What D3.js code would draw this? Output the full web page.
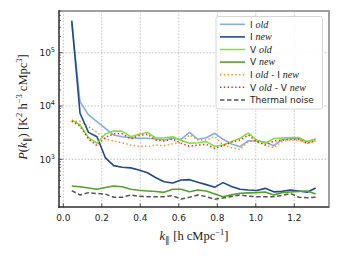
<!DOCTYPE html>
<html>
<head>
<meta charset="utf-8">
<script src="https://cdn.jsdelivr.net/npm/d3@7"></script>
<style>
  html, body { margin: 0; padding: 0; background: #fff; }
  svg { display: block; }
</style>
</head>
<body>
<div id="chart"></div>
<script>
const width = 340;
const height = 260;

// k_parallel bins
const kPar = [0.044, 0.087, 0.131, 0.175, 0.219, 0.262, 0.306, 0.350, 0.393, 0.437,
              0.481, 0.524, 0.568, 0.612, 0.656, 0.699, 0.743, 0.787, 0.830, 0.874,
              0.918, 0.961, 1.005, 1.049, 1.093, 1.136, 1.180, 1.224, 1.267, 1.311];

const iOld = [350000, 12000, 6800, 5100, 3800, 2850, 2650, 2550, 2480, 2480,
              2400, 2300, 2480, 2370, 3200, 2370, 2540, 3070, 2370, 1940,
              1720, 2230, 2200, 2100, 1800, 2350, 2450, 2450, 2150, 2370];
const iNew = [400000, 7300, 3200, 2650, 1060, 760, 710, 690, 630, 560,
              450, 380, 360, 410, 415, 370, 335, 300, 365, 310,
              275, 265, 260, 285, 245, 250, 265, 255, 240, 290];
const vOld = [5500, 4400, 2550, 2000, 3000, 3400, 3350, 2650, 2950, 3200,
              2500, 2500, 2650, 2250, 2000, 2050, 2150, 1750, 1850, 2150,
              2500, 3100, 2300, 2000, 2450, 2500, 2550, 2550, 2150, 2400];
const vNew = [316, 306, 290, 274, 295, 316, 306, 275, 262, 255,
              248, 240, 274, 274, 247, 266, 255, 224, 199, 215,
              230, 234, 237, 244, 214, 237, 244, 250, 255, 224];
const iDiff = [5100, 5200, 4100, 3200, 2400, 2200, 2050, 1850, 1750, 1750,
               1850, 1800, 1950, 2050, 2860, 2300, 2300, 2650, 1850, 1650,
               1530, 2140, 2230, 1850, 1650, 2140, 2300, 2300, 2000, 2230];
const vDiff = [5200, 4200, 2400, 1800, 2600, 3000, 3000, 2400, 2800, 2950,
               2300, 2200, 2400, 2000, 1750, 1850, 1900, 1600, 1800, 2100,
               2300, 2860, 2150, 1850, 2200, 2300, 2350, 2350, 2000, 2200];
const noise = [258, 214, 237, 228, 222, 194, 194, 214, 202, 199,
               199, 199, 207, 180, 194, 214, 199, 178, 188, 200,
               214, 202, 199, 199, 199, 210, 228, 194, 190, 194];

const xTicks = [0.0, 0.2, 0.4, 0.6, 0.8, 1.0, 1.2];
const yTicks = [1e3, 1e4, 1e5];
const yTickExp = ["3", "4", "5"];

const series = [
    { name: ["I ", "old"], values: iOld, color: "#88aedd", width: 1.6, dash: null },
    { name: ["I ", "new"], values: iNew, color: "#1f4a8c", width: 1.6, dash: null },
    { name: ["V ", "old"], values: vOld, color: "#7ee032", width: 1.5, dash: null },
    { name: ["V ", "new"], values: vNew, color: "#56a12a", width: 1.6, dash: null },
    { name: ["I ", "old", " - I ", "new"], values: iDiff, color: "#ff8c1a", width: 1.5, dash: "1.4,2.4" },
    { name: ["V ", "old", " - V ", "new"], values: vDiff, color: "#f52020", width: 1.5, dash: "1.4,2.4" },
    { name: ["Thermal noise"], values: noise, color: "#555555", width: 1.5, dash: "4.5,2.5" }
];

const plotLeft = 59, plotRight = 329, plotTop = 11, plotBottom = 207;

const svg = d3.select("#chart").append("svg").attr("width", width).attr("height", height);

const x = d3.scaleLinear().domain([-0.0223, 1.3803]).range([plotLeft, plotRight]);
const y = d3.scaleLog().domain([Math.pow(10, 2.105), Math.pow(10, 5.782)]).range([plotBottom, plotTop]);

// grid
const grid = svg.append("g");
grid.selectAll("line.gx").data(xTicks).enter().append("line")
    .attr("x1", d => x(d)).attr("x2", d => x(d))
    .attr("y1", plotTop).attr("y2", plotBottom)
    .attr("stroke", "#b4b4b4").attr("stroke-width", 0.8).attr("stroke-dasharray", "1.6,1.6");
grid.selectAll("line.gy").data(yTicks).enter().append("line")
    .attr("x1", plotLeft).attr("x2", plotRight)
    .attr("y1", d => y(d)).attr("y2", d => y(d))
    .attr("stroke", "#b4b4b4").attr("stroke-width", 0.8).attr("stroke-dasharray", "1.6,1.6");

// lines
const line = d3.line().x((d, i) => x(kPar[i])).y(d => y(d));
const plot = svg.append("g");
series.forEach(s => {
    plot.append("path")
        .attr("d", line(s.values))
        .attr("fill", "none")
        .attr("stroke", s.color)
        .attr("stroke-width", s.width)
        .attr("stroke-dasharray", s.dash)
        .attr("stroke-linejoin", "round");
});

// frame
svg.append("rect").attr("x", plotLeft).attr("y", plotTop)
    .attr("width", plotRight - plotLeft).attr("height", plotBottom - plotTop)
    .attr("fill", "none").attr("stroke", "#a0a0a0").attr("stroke-width", 2);
svg.append("line").attr("x1", plotLeft).attr("x2", plotLeft).attr("y1", plotTop - 1).attr("y2", plotBottom + 1)
    .attr("stroke", "#222").attr("stroke-width", 1);
svg.append("line").attr("x1", plotLeft - 1).attr("x2", plotRight).attr("y1", plotBottom).attr("y2", plotBottom)
    .attr("stroke", "#222").attr("stroke-width", 1);

// ticks (inward)
const xAxis = svg.append("g").attr("font-family", "DejaVu Sans").attr("font-size", 9);
xTicks.forEach(t => {
    xAxis.append("line").attr("x1", x(t)).attr("x2", x(t)).attr("y1", plotBottom).attr("y2", plotBottom - 3.5)
        .attr("stroke", "#222").attr("stroke-width", 0.8);
    xAxis.append("text").attr("x", x(t)).attr("y", 220.5).attr("text-anchor", "middle")
        .attr("fill", "#222").text(d3.format(".1f")(t));
});

const yAxis = svg.append("g").attr("font-family", "DejaVu Sans").attr("font-size", 9);
const minor = y.ticks().filter(t => {
    const m = t / Math.pow(10, Math.floor(Math.log10(t) + 1e-9));
    return Math.abs(m - 1) > 1e-6;
});
minor.forEach(t => {
    yAxis.append("line").attr("x1", plotLeft).attr("x2", plotLeft + 2).attr("y1", y(t)).attr("y2", y(t))
        .attr("stroke", "#222").attr("stroke-width", 0.6);
});
yTicks.forEach((t, i) => {
    yAxis.append("line").attr("x1", plotLeft).attr("x2", plotLeft + 3.5).attr("y1", y(t)).attr("y2", y(t))
        .attr("stroke", "#222").attr("stroke-width", 0.8);
    const tx = yAxis.append("text").attr("x", 55).attr("y", y(t) + 3.5).attr("text-anchor", "end").attr("fill", "#222");
    tx.append("tspan").text("10");
    tx.append("tspan").attr("dy", -4).attr("font-size", 6.5).text(yTickExp[i]);
});

// axis labels
const serif = "Liberation Serif";
const xl = svg.append("text").attr("x", 194).attr("y", 240).attr("text-anchor", "middle")
    .attr("font-family", serif).attr("font-size", 12.5).attr("fill", "#222");
xl.append("tspan").attr("font-style", "italic").text("k");
xl.append("tspan").attr("font-size", 8.5).attr("dy", 2.5).text("∥");
xl.append("tspan").attr("dy", -2.5).text(" [h cMpc");
xl.append("tspan").attr("font-size", 8.5).attr("dy", -5).text("−1");
xl.append("tspan").attr("dy", 5).text("]");

const yl = svg.append("text").attr("transform", "translate(27,107) rotate(-90)").attr("text-anchor", "middle")
    .attr("font-family", serif).attr("font-size", 12.5).attr("fill", "#222");
yl.append("tspan").attr("font-style", "italic").text("P");
yl.append("tspan").text("(");
yl.append("tspan").attr("font-style", "italic").text("k");
yl.append("tspan").attr("font-size", 8.5).attr("dy", 2.5).text("∥");
yl.append("tspan").attr("dy", -2.5).text(") [K");
yl.append("tspan").attr("font-size", 8.5).attr("dy", -5).text("2");
yl.append("tspan").attr("dy", 5).text(" h");
yl.append("tspan").attr("font-size", 8.5).attr("dy", -5).text("−3");
yl.append("tspan").attr("dy", 5).text(" cMpc");
yl.append("tspan").attr("font-size", 8.5).attr("dy", -5).text("3");
yl.append("tspan").attr("dy", 5).text("]");

// legend
const legend = svg.append("g");
legend.append("rect").attr("x", 216).attr("y", 16.5).attr("width", 106.5).attr("height", 92.5)
    .attr("rx", 2).attr("fill", "#fff").attr("fill-opacity", 0.85)
    .attr("stroke", "#cccccc").attr("stroke-width", 0.8);
series.forEach((s, i) => {
    const ly = 24.3 + i * 12.6;
    legend.append("line").attr("x1", 220).attr("x2", 245).attr("y1", ly).attr("y2", ly)
        .attr("stroke", s.color).attr("stroke-width", s.width).attr("stroke-dasharray", s.dash);
    const t = legend.append("text").attr("x", 250).attr("y", ly + 3.3)
        .attr("font-size", 9).attr("fill", "#222");
    s.name.forEach((part, j) => {
        if (j % 2 === 1) {
            t.append("tspan").attr("font-family", serif).attr("font-style", "italic").attr("font-size", 10).text(part);
        } else {
            t.append("tspan").attr("font-family", "DejaVu Sans").attr("xml:space", "preserve").text(part);
        }
    });
});
</script>
</body>
</html>
